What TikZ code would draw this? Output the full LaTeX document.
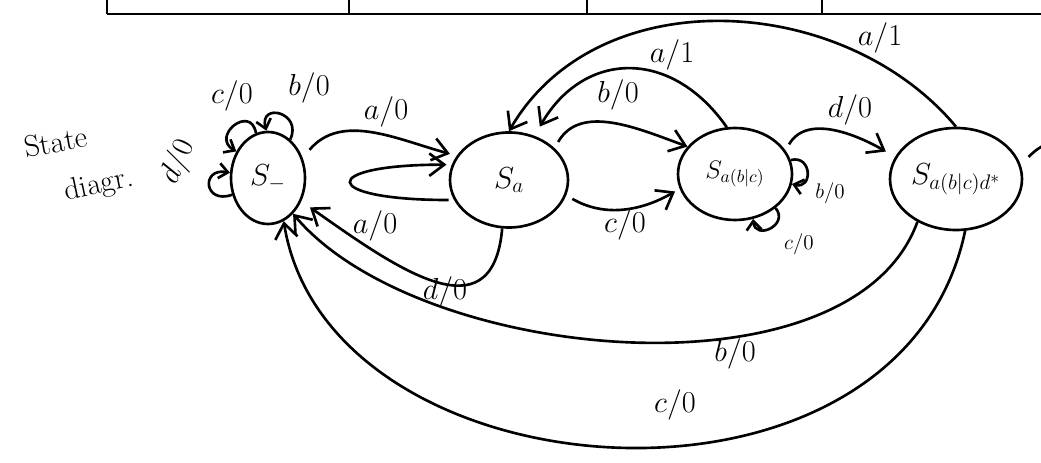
\documentclass[tikz,border=0pt]{standalone}
\usepackage{amsmath}
\usepackage{tikz}
\usetikzlibrary{shapes.geometric,arrows.meta}

\begin{document}
\begin{tikzpicture}[scale=0.2, line width=1.5pt, >={Straight Barb[length=3mm,width=4.5mm]}]
\tikzstyle{every node}+=[inner sep=0pt]
\tikzstyle{state}=[draw, ellipse, font=\LARGE]
\tikzstyle{lbl}=[font=\LARGE]
\tikzstyle{small lbl}=[font=\large]
\tikzstyle{curl}=[-{Straight Barb[length=1.8mm,width=3mm]}, min distance=30mm, looseness=0.5]
\useasboundingbox (0,0) rectangle (104.1,-46.3);
% bottom edge of the table above
\draw [black, line width=1.5pt] (10.7,-1.4) -- (104.1,-1.4);
\foreach \x in {10.7,34.9,58.7,82.2}
  \draw [black, line width=1.5pt] (\x,0) -- (\x,-1.4);
\draw (5.6,-14.2) node [lbl, rotate=10] (title1) {State};
\draw (9.9,-18.6) node [lbl, rotate=12] (title2) {diagr.};
% states
\node [state, minimum width=1.48cm, minimum height=1.84cm] (S0) at (26.8,-17.8) {$S_{-}$};
\node [state, minimum width=2.36cm, minimum height=1.9cm] (Sa) at (50.9,-18) {$S_a$};
\node [state, font=\Large, minimum width=2.28cm, minimum height=1.84cm] (Sab) at (73.5,-17.4) {$S_{a(b|c)}$};
\node [state, font=\LARGE, minimum width=2.64cm, minimum height=2.04cm] (Sad) at (95.6,-17.9) {$S_{a(b|c)d^{*}}$};
% loops on S_
\draw [curl] (S0.105) to [out=100, in=150] (S0.140);
\draw (23.2,-9.6) node [lbl] (lc0) {$c/0$};
\draw [curl] (S0.60) to [out=65, in=105] (S0.92);
\draw (30.9,-8.8) node [lbl] (lb0) {$b/0$};
\draw [curl] (S0.205) to [out=200, in=170] (S0.172);
\draw (17.8,-16.2) node [lbl, rotate=65] (ld0) {$d/0$};
% S_ and Sa
\draw [->, shorten <=6pt, shorten >=4pt] (S0.30) to [out=50, in=165] (Sa.155);
\draw (38.6,-11.2) node [lbl] (la0) {$a/0$};
\draw [->, shorten <=3pt, shorten >=3pt] (Sa.200) .. controls +(-13.5,0) and +(-13.5,0) .. (Sa.165);
\draw (37.5,-22.6) node [lbl] (la0b) {$a/0$};
\draw [->, shorten >=6pt] (Sa.262) to [out=-95, in=-35, looseness=1.4] (S0.-35);
\draw (44.5,-29.2) node [lbl] (ld0b) {$d/0$};
% Sa and Sa(b|c)
\draw [->, shorten <=4pt] (Sa.35) to [out=60, in=160] (Sab.150);
\draw (61.8,-9.5) node [lbl] (lb0b) {$b/0$};
\draw [->, shorten <=4pt, shorten >=3pt] (Sa.-15) to [out=-30, in=-150] (Sab.195);
\draw (62.5,-22.5) node [lbl] (lc0b) {$c/0$};
\draw [->, shorten >=6pt] (Sab.100) to [out=125, in=60, looseness=1.3] (Sa.60);
\draw (67.2,-5.5) node [lbl] (la1) {$a/1$};
% loops on Sa(b|c)
\draw [curl, min distance=22mm] (Sab.14) to [out=15, in=-15] (Sab.-10);
\draw (83,-19.3) node [small lbl] (lb0c) {$b/0$};
\draw [curl, min distance=22mm] (Sab.-40) to [out=-50, in=-85] (Sab.-68);
\draw (79.9,-24.4) node [small lbl] (lc0c) {$c/0$};
% Sa(b|c) to Sa(b|c)d*
\draw [->, shorten <=4pt, shorten >=6pt] (Sab.25) to [out=60, in=150] (Sad.160);
\draw (85,-11) node [lbl] (ld0c) {$d/0$};
% back from Sa(b|c)d*
\draw [->] (Sad.north) .. controls +(-11.3,13.5) and +(8.8,15.2) .. (Sa.north);
\draw (88,-3.8) node [lbl] (la1b) {$a/1$};
\draw [->] (Sad.228) .. controls +(-6.6,-18.2) and +(12.5,-14.9) .. (S0.-55);
\draw (73.5,-35.4) node [lbl] (lb0d) {$b/0$};
\draw [->] (Sad.-80) .. controls +(-6.5,-31.1) and +(4.5,-27.9) .. (S0.-70);
\draw (67.5,-40.5) node [lbl] (lc0d) {$c/0$};
% start of the d loop on Sa(b|c)d*
\draw (Sad.15) ++(0.9,0.5) to [bend left=10] ++(1.8,1.3);
\end{tikzpicture}
\end{document}
